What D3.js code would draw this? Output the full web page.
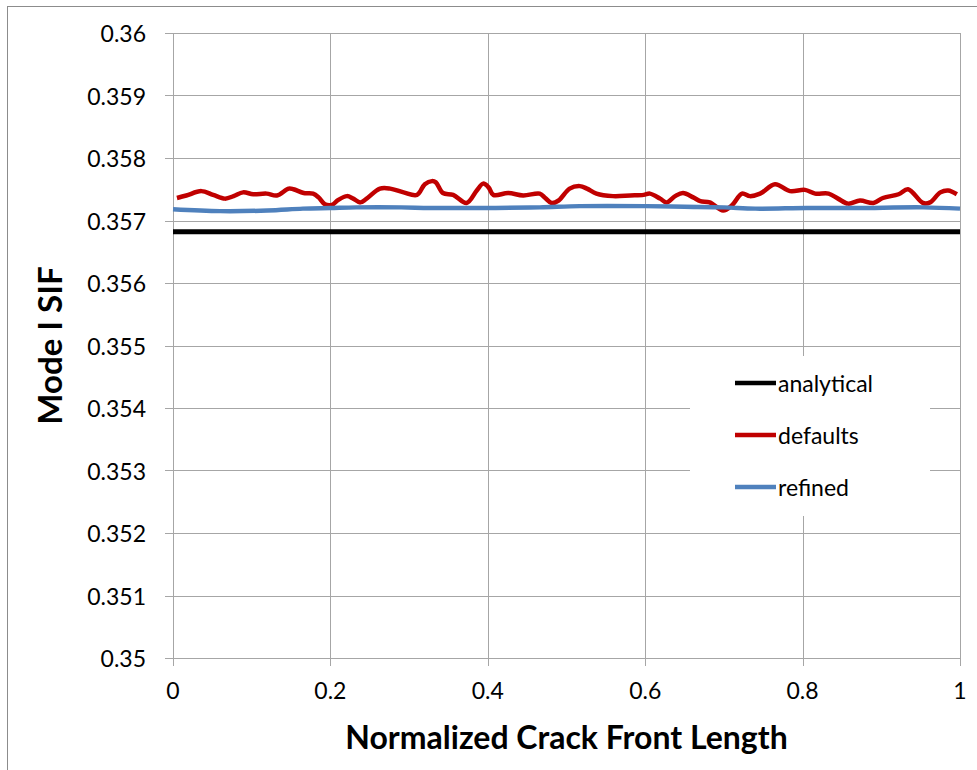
<!DOCTYPE html>
<html>
<head>
<meta charset="utf-8">
<script src="https://cdn.jsdelivr.net/npm/d3@7"></script>
<style>
    body { margin: 0; background: #fff; }
    text { font-family: Lato, "Open Sans", sans-serif; fill: #000; }
</style>
</head>
<body>
<div id="vis"></div>
<script>
// data
const xTicks = [0, 0.2, 0.4, 0.6, 0.8, 1];
const yTicks = [0.35, 0.351, 0.352, 0.353, 0.354, 0.355, 0.356, 0.357, 0.358, 0.359, 0.36];

const analyticalPos = [0, 1];
const analyticalSif = [0.35682, 0.35682];

const defaultsPos = [0.005, 0.017, 0.036, 0.051, 0.066, 0.077, 0.089, 0.102, 0.119, 0.132,
    0.147, 0.153, 0.166, 0.178, 0.185, 0.193, 0.202, 0.210, 0.221, 0.229,
    0.238, 0.246, 0.263, 0.276, 0.293, 0.310, 0.320, 0.329, 0.334, 0.343,
    0.356, 0.373, 0.386, 0.394, 0.401, 0.407, 0.426, 0.445, 0.466, 0.473,
    0.481, 0.490, 0.504, 0.517, 0.526, 0.538, 0.559, 0.581, 0.598, 0.606,
    0.619, 0.627, 0.638, 0.648, 0.661, 0.670, 0.682, 0.699, 0.710, 0.723,
    0.733, 0.746, 0.765, 0.784, 0.803, 0.816, 0.833, 0.845, 0.858, 0.873,
    0.890, 0.902, 0.922, 0.934, 0.953, 0.962, 0.975, 0.985, 0.996];
const defaultsSif = [0.35736, 0.35740, 0.35747, 0.35741, 0.35735, 0.35739, 0.35745, 0.35742, 0.35743, 0.35740,
    0.35751, 0.35750, 0.35744, 0.35743, 0.35737, 0.35726, 0.35725, 0.35733, 0.35739, 0.35735,
    0.35729, 0.35735, 0.35751, 0.35751, 0.35745, 0.35741, 0.35758, 0.35763, 0.35761, 0.35744,
    0.35741, 0.35728, 0.35748, 0.35759, 0.35753, 0.35741, 0.35744, 0.35740, 0.35743, 0.35736,
    0.35728, 0.35732, 0.35751, 0.35755, 0.35751, 0.35743, 0.35739, 0.35740, 0.35741, 0.35743,
    0.35735, 0.35729, 0.35739, 0.35744, 0.35737, 0.35731, 0.35729, 0.35716, 0.35724, 0.35743,
    0.35739, 0.35743, 0.35758, 0.35747, 0.35749, 0.35743, 0.35743, 0.35735, 0.35727, 0.35732,
    0.35728, 0.35736, 0.35742, 0.35750, 0.35728, 0.35729, 0.35745, 0.35748, 0.35742];

const refinedPos = [0, 0.06, 0.12, 0.165, 0.2, 0.233, 0.29, 0.327, 0.41, 0.466,
    0.517, 0.6, 0.65, 0.7, 0.74, 0.805, 0.869, 0.953, 1];
const refinedSif = [0.35718, 0.35715, 0.35716, 0.35719, 0.35720, 0.35721, 0.35721, 0.35720, 0.35720, 0.35721,
    0.35723, 0.35723, 0.35722, 0.35721, 0.35719, 0.35720, 0.35720, 0.35721, 0.35719];

const seriesNames = ["analytical", "defaults", "refined"];
const seriesColors = ["#000000", "#c00000", "#4f81bd"];

function vis() {
    const width = 977;
    const height = 770;
    const margin = { left: 173, top: 33, right: 17, bottom: 112 };
    const gridColor = "#a6a6a6";

    const svg = d3.select("#vis")
        .append("svg")
        .attr("width", width)
        .attr("height", height);

    // outer chart border
    svg.append("rect")
        .attr("x", 7.5)
        .attr("y", 6.5)
        .attr("width", width + 20)
        .attr("height", height + 20)
        .attr("fill", "#fff")
        .attr("stroke", "#8c8c8c");

    const xScale = d3.scaleLinear()
        .domain([0, 1])
        .range([margin.left, width - margin.right]);

    const yScale = d3.scaleLinear()
        .domain([0.35, 0.36])
        .range([height - margin.bottom, margin.top]);

    // gridlines
    svg.append("g")
        .selectAll(".h-grid")
        .data(yTicks)
        .join("line")
            .attr("class", "h-grid")
            .attr("stroke", gridColor)
            .attr("x1", xScale(0) - 8)
            .attr("x2", xScale(1))
            .attr("y1", d => Math.round(yScale(d)) + 0.5)
            .attr("y2", d => Math.round(yScale(d)) + 0.5);

    svg.append("g")
        .selectAll(".v-grid")
        .data(xTicks)
        .join("line")
            .attr("class", "v-grid")
            .attr("stroke", gridColor)
            .attr("x1", d => Math.round(xScale(d)) + 0.5)
            .attr("x2", d => Math.round(xScale(d)) + 0.5)
            .attr("y1", yScale(0.36))
            .attr("y2", yScale(0.35) + 8);

    // tick labels
    svg.append("g")
        .selectAll(".y-label")
        .data(yTicks)
        .join("text")
            .attr("class", "y-label")
            .attr("text-anchor", "end")
            .attr("dominant-baseline", "central")
            .style("font-size", "23px")
            .attr("x", xScale(0) - 27)
            .attr("y", d => yScale(d))
            .text(d => d3.format("")(+d.toFixed(3)));

    svg.append("g")
        .selectAll(".x-label")
        .data(xTicks)
        .join("text")
            .attr("class", "x-label")
            .attr("text-anchor", "middle")
            .style("font-size", "23px")
            .attr("x", d => xScale(d))
            .attr("y", yScale(0.35) + 41)
            .text(d => `${d}`);

    // axis titles
    svg.append("text")
        .attr("text-anchor", "middle")
        .style("font-size", "32px")
        .style("font-weight", 700)
        .attr("x", (xScale(0) + xScale(1)) / 2)
        .attr("y", 749)
        .text("Normalized Crack Front Length");

    svg.append("text")
        .attr("text-anchor", "middle")
        .style("font-size", "33px")
        .style("font-weight", 700)
        .attr("transform", `translate(62, ${(yScale(0.35) + yScale(0.36)) / 2}) rotate(-90)`)
        .text("Mode I SIF");

    // series
    const series = [
        { name: seriesNames[0], color: seriesColors[0], width: 5, pos: analyticalPos, sif: analyticalSif },
        { name: seriesNames[1], color: seriesColors[1], width: 4.5, pos: defaultsPos, sif: defaultsSif },
        { name: seriesNames[2], color: seriesColors[2], width: 4.5, pos: refinedPos, sif: refinedSif }
    ];

    const line = d3.line()
        .x(d => xScale(d[0]))
        .y(d => yScale(d[1]))
        .curve(d3.curveCatmullRom.alpha(0.5));

    svg.selectAll(".series")
        .data(series)
        .join("path")
            .attr("class", "series")
            .attr("fill", "none")
            .attr("stroke", d => d.color)
            .attr("stroke-width", d => d.width)
            .attr("stroke-linejoin", "round")
            .attr("d", d => line(d.pos.map((p, i) => [p, d.sif[i]])));

    // legend
    const legend = svg.append("g")
        .attr("class", "legend")
        .attr("transform", "translate(690, 356)");

    legend.append("rect")
        .attr("width", 240)
        .attr("height", 160)
        .attr("fill", "#fff");

    const items = legend.selectAll(".item")
        .data(series)
        .join("g")
            .attr("class", "item")
            .attr("transform", (_, i) => `translate(0, ${27 + i * 52})`);

    items.append("line")
        .attr("x1", 45)
        .attr("x2", 86)
        .attr("y1", 0)
        .attr("y2", 0)
        .attr("stroke", d => d.color)
        .attr("stroke-width", 4.5);

    items.append("text")
        .attr("x", 88)
        .attr("y", 0)
        .attr("dominant-baseline", "central")
        .style("font-size", "23px")
        .text(d => d.name);
}

vis();
</script>
</body>
</html>
